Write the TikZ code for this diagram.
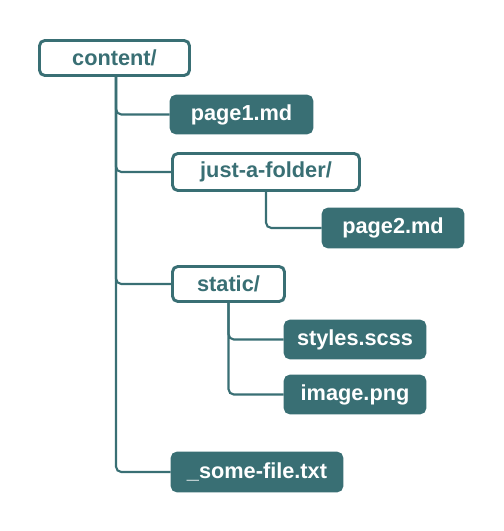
\documentclass[tikz,border=0pt]{standalone}
\usepackage{fontspec}
\setmainfont{Liberation Sans}
\definecolor{teal1}{HTML}{396F74}
\tikzset{
  base/.style 2 args={rounded corners=4pt, line width=2.2pt, draw=teal1,
     minimum width={#1*0.75pt}, minimum height={#2*0.75pt}, inner sep=0pt,
     font=\fontsize{16.3}{19}\selectfont\bfseries},
  folder/.style 2 args={base={#1}{#2}, fill=white, text=teal1},
  filebox/.style 2 args={base={#1}{#2}, fill=teal1, text=white},
  conn/.style={draw=teal1, line width=1.6pt, rounded corners=4pt}
}
\begin{document}
\begin{tikzpicture}[x=0.75pt,y=-0.75pt]
\useasboundingbox (0,0) rectangle (503,531);
\node[folder={150}{35}] (content) at (114.5,58) {content/};
\node[filebox={141}{37}] (page1) at (241.5,114.5) {page1.md};
\node[folder={187}{37}] (just) at (266,172) {just-a-folder/};
\node[filebox={140}{38}] (page2) at (393,228) {page2.md};
\node[folder={112}{35}] (static) at (228.5,284) {static/};
\node[filebox={140}{37}] (styles) at (355,339.5) {styles.scss};
\node[filebox={140}{37}] (image) at (355,394.5) {image.png};
\node[filebox={170}{38}] (some) at (257,472) {\_some-file.txt};
\coordinate (t) at (116,77);
\begin{scope}[on background layer/.style={}]
\draw[conn] (t) |- (page1.west);
\draw[conn] (t) |- (just.west);
\draw[conn] (t) |- (static.west);
\draw[conn] (t) |- (some.west);
\draw[conn] (just.south) |- (page2.west);
\draw[conn] (static.south) |- (styles.west);
\draw[conn] (static.south) |- (image.west);
\end{scope}
\end{tikzpicture}
\end{document}
